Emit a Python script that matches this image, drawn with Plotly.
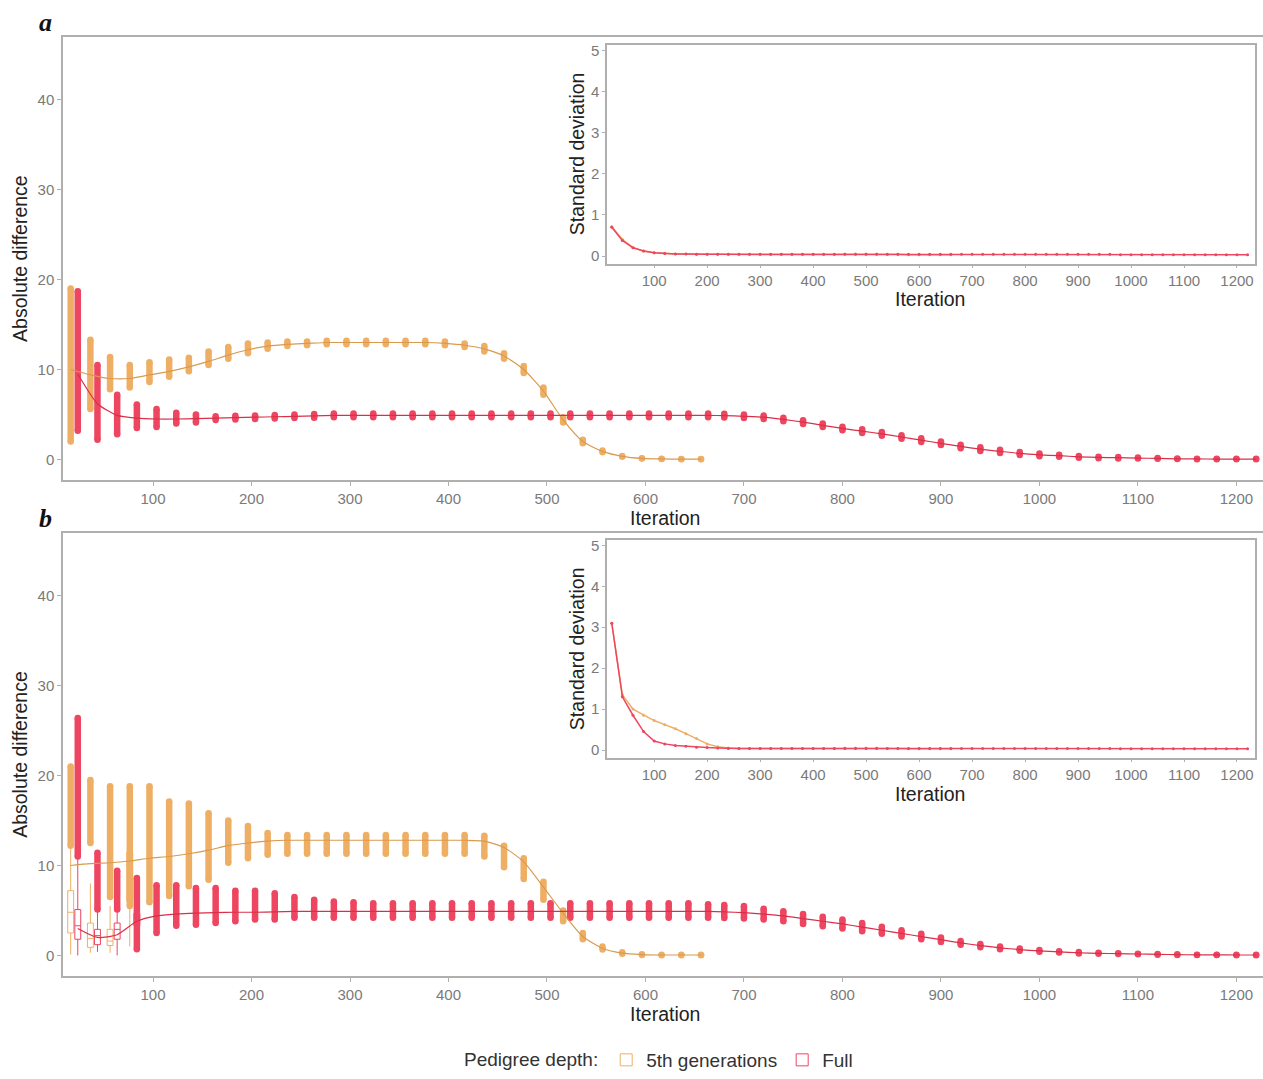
import plotly.graph_objects as go

# ---------------- data ----------------
ITER_5TH = [20, 40, 60, 80, 100, 120, 140, 160, 180, 200, 220, 240, 260, 280, 300, 320, 340,
            360, 380, 400, 420, 440, 460, 480, 500, 520, 540, 560, 580, 600, 620, 640, 660]
ITER_FULL = ITER_5TH + [680, 700, 720, 740, 760, 780, 800, 820, 840, 860, 880, 900, 920, 940,
                        960, 980, 1000, 1020, 1040, 1060, 1080, 1100, 1120, 1140, 1160, 1180,
                        1200, 1220]

# panel a - 5th generations
A5_MED = [10.0, 9.4, 9.0, 9.0, 9.4, 9.8, 10.3, 10.9, 11.6, 12.2,
          12.6, 12.8, 12.9, 13.0, 13.0, 13.0, 13.0, 13.0, 13.0, 12.9,
          12.7, 12.3, 11.5, 10.0, 7.6, 4.4, 2.0, 0.9, 0.35, 0.12,
          0.06, 0.05, 0.05]
A5_LO = [2.0, 5.6, 7.8, 8.0, 8.6, 9.2, 9.8, 10.5, 11.2, 11.8,
         12.3, 12.6, 12.7, 12.8, 12.8, 12.8, 12.8, 12.8, 12.8, 12.7,
         12.5, 12.0, 11.2, 9.6, 7.2, 4.1, 1.8, 0.8, 0.3, 0.1,
         0.05, 0.04, 0.04]
A5_HI = [19.0, 13.3, 11.4, 10.5, 10.8, 11.1, 11.3, 12.0, 12.5, 12.9,
         13.0, 13.1, 13.1, 13.2, 13.2, 13.2, 13.2, 13.2, 13.2, 13.1,
         12.9, 12.6, 11.8, 10.4, 8.0, 4.7, 2.2, 1.0, 0.4, 0.15,
         0.07, 0.06, 0.06]

# panel a - Full
AF_MED = [9.5, 6.2, 4.9, 4.6, 4.5, 4.5, 4.55, 4.6, 4.65, 4.7,
          4.75, 4.8, 4.85, 4.9, 4.9, 4.9, 4.9, 4.9, 4.9, 4.9,
          4.9, 4.9, 4.9, 4.9, 4.9, 4.9, 4.9, 4.9, 4.9, 4.9,
          4.9, 4.9, 4.9, 4.88, 4.8, 4.7, 4.45, 4.15, 3.8, 3.45,
          3.15, 2.85, 2.5, 2.15, 1.8, 1.45, 1.15, 0.9, 0.67, 0.52,
          0.42, 0.3, 0.23, 0.2, 0.16, 0.12, 0.08, 0.06, 0.05, 0.05,
          0.05]
AF_LO = [3.2, 2.2, 2.8, 3.5, 3.6, 4.0, 4.1, 4.4, 4.45, 4.5,
         4.55, 4.6, 4.65, 4.7, 4.7, 4.7, 4.7, 4.7, 4.7, 4.7,
         4.7, 4.7, 4.7, 4.7, 4.7, 4.7, 4.7, 4.7, 4.7, 4.7,
         4.7, 4.7, 4.7, 4.68, 4.6, 4.5, 4.25, 3.95, 3.6, 3.25,
         2.95, 2.65, 2.3, 1.95, 1.6, 1.25, 0.95, 0.72, 0.5, 0.37,
         0.3, 0.2, 0.15, 0.12, 0.1, 0.07, 0.05, 0.04, 0.03, 0.03,
         0.03]
AF_HI = [18.7, 10.5, 7.2, 6.1, 5.6, 5.2, 5.0, 4.8, 4.85, 4.9,
         4.95, 5.0, 5.05, 5.1, 5.1, 5.1, 5.1, 5.1, 5.1, 5.1,
         5.1, 5.1, 5.1, 5.1, 5.1, 5.1, 5.1, 5.1, 5.1, 5.1,
         5.1, 5.1, 5.1, 5.08, 5.0, 4.9, 4.65, 4.35, 4.0, 3.65,
         3.35, 3.05, 2.7, 2.35, 2.0, 1.65, 1.35, 1.08, 0.84, 0.67,
         0.54, 0.4, 0.31, 0.28, 0.22, 0.17, 0.11, 0.08, 0.07, 0.07,
         0.07]

# panel b - 5th generations
B5_MED = [10.0, 10.2, 10.3, 10.5, 10.8, 11.0, 11.3, 11.7, 12.2, 12.5,
          12.7, 12.8, 12.8, 12.8, 12.8, 12.8, 12.8, 12.8, 12.8, 12.8,
          12.8, 12.7, 12.0, 10.4, 7.6, 4.7, 2.1, 0.8, 0.25, 0.1,
          0.05, 0.05, 0.05]
B5_LO = [12.2, 12.5, 6.5, 5.5, 5.9, 6.6, 7.7, 8.4, 10.3, 10.8,
         11.2, 11.3, 11.3, 11.3, 11.3, 11.3, 11.3, 11.3, 11.3, 11.3,
         11.3, 11.0, 9.8, 8.5, 6.2, 3.8, 1.8, 0.65, 0.18, 0.06,
         0.03, 0.03, 0.03]
B5_HI = [21.0, 19.5, 18.8, 18.8, 18.8, 17.1, 16.9, 15.8, 15.0, 14.4,
         13.6, 13.4, 13.4, 13.4, 13.4, 13.4, 13.4, 13.4, 13.4, 13.4,
         13.4, 13.3, 12.2, 10.8, 8.2, 5.0, 2.5, 1.0, 0.35, 0.14,
         0.07, 0.07, 0.07]

# panel b - Full
BF_MED = [3.0, 2.0, 2.3, 3.8, 4.4, 4.6, 4.7, 4.75, 4.8, 4.8,
          4.85, 4.9, 4.9, 4.9, 4.9, 4.9, 4.9, 4.9, 4.9, 4.9,
          4.9, 4.9, 4.9, 4.9, 4.9, 4.9, 4.9, 4.9, 4.9, 4.9,
          4.9, 4.9, 4.9, 4.85, 4.75, 4.6, 4.4, 4.1, 3.8, 3.5,
          3.15, 2.8, 2.45, 2.1, 1.75, 1.4, 1.1, 0.85, 0.65, 0.5,
          0.4, 0.3, 0.24, 0.2, 0.16, 0.12, 0.09, 0.07, 0.06, 0.05,
          0.05]
BF_LO = [11.0, 5.1, 5.1, 0.7, 2.5, 3.3, 3.4, 3.6, 3.8, 4.0,
         4.0, 4.2, 4.2, 4.2, 4.2, 4.2, 4.2, 4.2, 4.2, 4.2,
         4.2, 4.2, 4.2, 4.2, 4.2, 4.2, 4.2, 4.2, 4.2, 4.2,
         4.2, 4.2, 4.2, 4.15, 4.1, 4.0, 3.8, 3.5, 3.25, 3.0,
         2.7, 2.4, 2.1, 1.8, 1.5, 1.2, 0.92, 0.7, 0.52, 0.4,
         0.32, 0.23, 0.18, 0.15, 0.12, 0.09, 0.06, 0.05, 0.04, 0.03,
         0.03]
BF_HI = [26.4, 11.4, 9.4, 8.6, 7.8, 7.8, 7.5, 7.5, 7.2, 7.2,
         6.9, 6.5, 6.2, 6.0, 5.9, 5.8, 5.8, 5.8, 5.8, 5.8,
         5.8, 5.8, 5.8, 5.8, 5.8, 5.8, 5.8, 5.8, 5.8, 5.8,
         5.8, 5.8, 5.7, 5.6, 5.5, 5.2, 4.9, 4.6, 4.3, 4.0,
         3.6, 3.2, 2.8, 2.4, 2.0, 1.6, 1.28, 1.0, 0.78, 0.6,
         0.48, 0.37, 0.3, 0.25, 0.2, 0.15, 0.12, 0.09, 0.08, 0.07,
         0.07]

# panel b - visible boxes of the first iterations
BOX_ITER = [20, 40, 60, 80]
B5_Q1 = [2.5, 0.9, 1.1, 6.0]
B5_Q2 = [4.8, 1.9, 1.6, 9.0]
B5_Q3 = [7.2, 3.6, 2.9, 11.5]
B5_WLO = [0.1, 0.3, 0.3, 1.0]
B5_WHI = [12.0, 8.0, 5.5, 12.5]
BF_Q1 = [1.8, 1.2, 1.8, 3.3]
BF_Q2 = [3.3, 2.2, 2.9, 4.0]
BF_Q3 = [5.1, 2.9, 3.6, 4.7]
BF_WLO = [0.0, 0.4, 0.0, 2.9]
BF_WHI = [10.8, 5.0, 5.0, 5.0]

# insets: standard deviation
SDA_5TH = [0.72, 0.40, 0.21, 0.12, 0.08, 0.06, 0.05, 0.05, 0.04, 0.04,
           0.04, 0.04, 0.04, 0.04, 0.04, 0.04, 0.04, 0.04, 0.04, 0.04,
           0.04, 0.04, 0.05, 0.05, 0.05, 0.05, 0.04, 0.04, 0.03, 0.03,
           0.03, 0.03, 0.03]
SDA_FULL = [0.70, 0.38, 0.20, 0.12, 0.08, 0.06, 0.05, 0.05, 0.04, 0.04,
            0.04, 0.04, 0.04, 0.04, 0.04, 0.04, 0.04, 0.04, 0.04, 0.04,
            0.04, 0.04, 0.04, 0.04, 0.04, 0.04, 0.04, 0.04, 0.04, 0.04,
            0.04, 0.04, 0.04, 0.04, 0.04, 0.04, 0.04, 0.04, 0.04, 0.04,
            0.04, 0.04, 0.04, 0.04, 0.04, 0.04, 0.04, 0.04, 0.03, 0.03,
            0.03, 0.03, 0.03, 0.03, 0.03, 0.03, 0.03, 0.03, 0.03, 0.03,
            0.03]
SDB_5TH = [3.10, 1.35, 1.00, 0.85, 0.72, 0.62, 0.52, 0.40, 0.28, 0.15,
           0.08, 0.05, 0.04, 0.04, 0.04, 0.04, 0.04, 0.04, 0.04, 0.04,
           0.04, 0.04, 0.05, 0.05, 0.05, 0.05, 0.04, 0.04, 0.03, 0.03,
           0.03, 0.03, 0.03]
SDB_FULL = [3.10, 1.30, 0.85, 0.45, 0.22, 0.15, 0.11, 0.09, 0.07, 0.06,
            0.05, 0.04, 0.04, 0.04, 0.04, 0.04, 0.04, 0.04, 0.04, 0.04,
            0.04, 0.04, 0.04, 0.04, 0.04, 0.04, 0.04, 0.04, 0.04, 0.04,
            0.04, 0.04, 0.04, 0.04, 0.04, 0.04, 0.04, 0.04, 0.04, 0.04,
            0.04, 0.04, 0.04, 0.04, 0.04, 0.04, 0.04, 0.04, 0.03, 0.03,
            0.03, 0.03, 0.03, 0.03, 0.03, 0.03, 0.03, 0.03, 0.03, 0.03,
            0.03]

X_TICKS = [100, 200, 300, 400, 500, 600, 700, 800, 900, 1000, 1100, 1200]
Y_TICKS_MAIN = [0, 10, 20, 30, 40]
Y_TICKS_INSET = [0, 1, 2, 3, 4, 5]
SERIES_NAMES = ["5th generations", "Full"]

# ---------------- style ----------------
W, H = 1263, 1079
ORANGE = "#EEAF65"
RED = "#EE4560"
ORANGE_LINE = "#D99A4E"
RED_LINE = "#D93048"
DODGE = 3.6
BOX_W = 6.0
FONT = "Liberation Sans, Arial, sans-serif"
TICK_COL = "#7A7A7A"
AX_COL = "#AFAFAF"


def py(p):
    return 1 - p / H


XA_DOM = [63 / W, 1.0]
XI_DOM = [607 / W, 1255 / W]
YA_DOM = [py(482), py(33)]
YB_DOM = [py(984), py(535)]
YIA_DOM = [py(263), py(42)]
YIB_DOM = [py(763), py(543)]

max_5th = max(ITER_5TH)


def pos(iters, side):
    out = []
    for it in iters:
        if side == 0:
            out.append(it - DODGE)
        else:
            out.append(it + DODGE if it <= max_5th else it)
    return out


def strip_xy(xs, lo, hi):
    X, Y = [], []
    for x, a, b in zip(xs, lo, hi):
        X += [x, x, None]
        Y += [a, b, None]
    return X, Y


fig = go.Figure()


def add_panel(xa, ya, data):
    # strips (dense boxes / outliers)
    for side, (iters, lo, hi, col) in enumerate(data["strips"]):
        X, Y = strip_xy(pos(iters, side), lo, hi)
        fig.add_trace(go.Scatter(x=X, y=Y, mode="lines+markers", xaxis=xa, yaxis=ya,
                                 line=dict(color=col, width=6.5),
                                 marker=dict(color=col, size=6.5),
                                 showlegend=False, hoverinfo="skip", connectgaps=False))
    # trend lines
    for side, (iters, med, col) in enumerate(data["trend"]):
        fig.add_trace(go.Scatter(x=pos(iters, side), y=med, mode="lines", xaxis=xa, yaxis=ya,
                                 line=dict(color=col, width=1.2, shape="spline", smoothing=0.6),
                                 showlegend=False, hoverinfo="skip"))


add_panel("x", "y", {
    "strips": [(ITER_5TH, A5_LO, A5_HI, ORANGE), (ITER_FULL, AF_LO, AF_HI, RED)],
    "trend": [(ITER_5TH, A5_MED, ORANGE_LINE), (ITER_FULL, AF_MED, RED_LINE)],
})
add_panel("x3", "y3", {
    "strips": [(ITER_5TH, B5_LO, B5_HI, ORANGE), (ITER_FULL, BF_LO, BF_HI, RED)],
    "trend": [(ITER_5TH, B5_MED, ORANGE_LINE), (ITER_FULL, BF_MED, RED_LINE)],
})

# boxes (panel b, first iterations) – also serve as legend entries
for side, (q1, q2, q3, wlo, whi, col) in enumerate([
        (B5_Q1, B5_Q2, B5_Q3, B5_WLO, B5_WHI, ORANGE),
        (BF_Q1, BF_Q2, BF_Q3, BF_WLO, BF_WHI, RED)]):
    fig.add_trace(go.Box(x=pos(BOX_ITER, side), q1=q1, median=q2, q3=q3,
                         lowerfence=wlo, upperfence=whi, width=BOX_W,
                         xaxis="x3", yaxis="y3", name=SERIES_NAMES[side],
                         line=dict(color=col, width=1), fillcolor="rgba(255,255,255,0.55)",
                         whiskerwidth=0, boxpoints=False, showlegend=True, hoverinfo="skip"))

# insets
for xa, ya, s5, sf in [("x2", "y2", SDA_5TH, SDA_FULL), ("x4", "y4", SDB_5TH, SDB_FULL)]:
    fig.add_trace(go.Scatter(x=ITER_5TH, y=s5, mode="lines+markers", xaxis=xa, yaxis=ya,
                             line=dict(color=ORANGE, width=1.5), marker=dict(color=ORANGE, size=3),
                             showlegend=False, hoverinfo="skip"))
    fig.add_trace(go.Scatter(x=ITER_FULL, y=sf, mode="lines+markers", xaxis=xa, yaxis=ya,
                             line=dict(color=RED, width=1.5), marker=dict(color=RED, size=3),
                             showlegend=False, hoverinfo="skip"))

tickfont = dict(family=FONT, size=15, color=TICK_COL)
common = dict(showgrid=False, zeroline=False, showline=True, linecolor=AX_COL, linewidth=1.5,
              ticks="outside", ticklen=4, tickcolor=AX_COL, tickfont=tickfont)

main_x = dict(common, range=[8.6, 1227], tickvals=X_TICKS, mirror=True)
main_y = dict(common, range=[-2.3, 47.0], tickvals=Y_TICKS_MAIN)
ins_x = dict(common, range=[11, 1234], tickvals=X_TICKS, mirror=True, ticklen=2)
ins_y = dict(common, range=[-0.19, 5.12], tickvals=Y_TICKS_INSET, mirror=True, ticklen=3)

fig.update_layout(
    width=W, height=H, margin=dict(l=0, r=0, t=0, b=0),
    paper_bgcolor="white", plot_bgcolor="rgba(0,0,0,0)",
    xaxis=dict(main_x, domain=XA_DOM, anchor="y"),
    yaxis=dict(main_y, domain=YA_DOM, anchor="x"),
    xaxis2=dict(ins_x, domain=XI_DOM, anchor="y2"),
    yaxis2=dict(ins_y, domain=YIA_DOM, anchor="x2"),
    xaxis3=dict(main_x, domain=XA_DOM, anchor="y3"),
    yaxis3=dict(main_y, domain=YB_DOM, anchor="x3"),
    xaxis4=dict(ins_x, domain=XI_DOM, anchor="y4"),
    yaxis4=dict(ins_y, domain=YIB_DOM, anchor="x4"),
    showlegend=True,
    legend=dict(orientation="h", x=462 / W, xanchor="left", y=py(1069), yanchor="middle",
                font=dict(family=FONT, size=19, color="#333333"),
                title=dict(text="Pedigree depth:", font=dict(family=FONT, size=19, color="#333333")),
                bgcolor="rgba(0,0,0,0)", itemwidth=30, traceorder="normal"),
)

title_font = dict(family=FONT, size=19.5, color="#222222")
ann = []
for cy_axis, cy_title in [(520, 258), (1022, 760)]:
    ann.append(dict(text="Iteration", x=665 / W, y=py(cy_axis), xref="paper", yref="paper",
                    showarrow=False, font=title_font, xanchor="center", yanchor="middle"))
    ann.append(dict(text="Absolute difference", x=20 / W, y=py(cy_title), xref="paper", yref="paper",
                    showarrow=False, font=title_font, textangle=-90, xanchor="center", yanchor="middle"))
for cy_axis, cy_title in [(299, 152), (800, 653)]:
    ann.append(dict(text="Iteration", x=930 / W, y=py(cy_axis), xref="paper", yref="paper",
                    showarrow=False, font=title_font, xanchor="center", yanchor="middle"))
    ann.append(dict(text="Standard deviation", x=577 / W, y=py(cy_title), xref="paper", yref="paper",
                    showarrow=False, font=title_font, textangle=-90, xanchor="center", yanchor="middle"))
for lab, cy in [("a", 19), ("b", 521)]:
    ann.append(dict(text="<b><i>%s</i></b>" % lab, x=45 / W, y=py(cy), xref="paper", yref="paper",
                    showarrow=False, font=dict(family="Liberation Serif, Times New Roman, serif",
                                               size=26, color="#111111"),
                    xanchor="center", yanchor="middle"))
fig.update_layout(annotations=ann)

fig.write_html("out.html")
